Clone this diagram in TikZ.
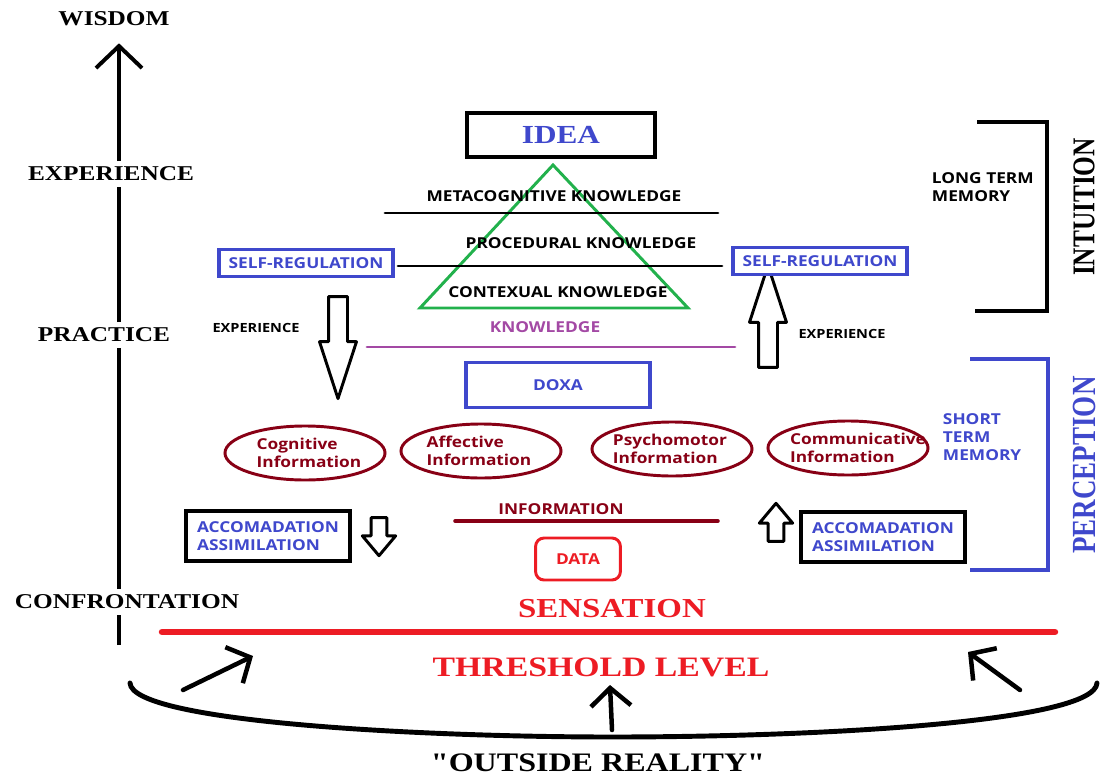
\documentclass[tikz,border=0pt]{standalone}
\usepackage{fontspec}
\usetikzlibrary{arrows.meta,shapes.geometric,shapes.arrows}
\newfontfamily\widserif{Liberation Serif}[FakeStretch=1.2,Ligatures=TeXOff]
\newfontfamily\narserif{Liberation Serif}[FakeStretch=0.8]
\newfontfamily\widsans{Open Sans}[FakeStretch=1.15]
\definecolor{pblue}{HTML}{3F48CC}
\definecolor{pred}{HTML}{ED1C24}
\definecolor{pdark}{HTML}{880015}
\definecolor{pgreen}{HTML}{22B14C}
\definecolor{ppurple}{HTML}{A349A4}
\begin{document}
\begin{tikzpicture}[x=0.025cm,y=-0.025cm,
  axislabel/.style={font=\widserif\bfseries\fontsize{15}{17}\selectfont,inner sep=4pt},
  axisline/.style={line width=2.8pt},
  sanslabel/.style={font=\widsans\bfseries\fontsize{10.7}{13}\selectfont},
  bluebox/.style={draw=pblue,line width=2.5pt,text=pblue,sanslabel,minimum width=4.35cm,minimum height=0.68cm,inner sep=0pt},
  accbox/.style={draw=black,line width=2.8pt,text=pblue,sanslabel,align=left,minimum width=4.12cm,minimum height=1.23cm,inner sep=0pt},
  infoell/.style={ellipse,draw=pdark,line width=2.1pt,minimum width=4cm,minimum height=1.35cm,inner sep=0pt},
  infotext/.style={sanslabel,text=pdark,align=left},
  sidelabel/.style={font=\narserif\bfseries\fontsize{22.5}{25}\selectfont,rotate=90,inner sep=0pt},
  hollow/.style={single arrow,draw=black,fill=white,line width=2.1pt,line join=round,inner xsep=0pt,inner ysep=0.2cm,
    single arrow head extend=0.225cm,single arrow tip angle=36,minimum height=2.55cm},
  smallhollow/.style={single arrow,draw=black,fill=white,line width=2.1pt,line join=round,inner xsep=0pt,inner ysep=0.16cm,
    single arrow head extend=0.22cm,single arrow tip angle=80,minimum height=0.95cm},
  barb/.style={line width=3.2pt,line cap=round,-{Straight Barb[length=0.45cm,width=1cm]}}]
\useasboundingbox (0,0) rectangle (1101,776);

% Left axis
\coordinate (base) at (119,645);
\node[axislabel] (wisdom) at (114,19) {WISDOM};
\node[axislabel] (exper) at (111,174) {EXPERIENCE};
\node[axislabel] (practice) at (104,335) {PRACTICE};
\node[axislabel] (confr) at (127,602) {CONFRONTATION};
\draw[axisline] (base) -- (confr.south -| base);
\draw[axisline] (confr.north -| base) -- (practice.south -| base);
\draw[axisline] (practice.north -| base) -- (exper.south -| base);
\draw[axisline,-{Straight Barb[length=0.55cm,width=1.15cm]}] (exper.north -| base) -- ([yshift=-8pt]wisdom.south -| base);

% Idea and knowledge pyramid
\node[draw=black,line width=2.8pt,minimum width=4.7cm,minimum height=1.1cm,text=pblue,
  font=\widserif\bfseries\fontsize{18.5}{20}\selectfont] (idea) at (561,135) {IDEA};
\draw[pgreen,line width=2.1pt] (553,165) -- (688,308) -- (420,308) -- cycle;
\draw[line width=2.1pt,line cap=round] (385,213) -- (718,213);
\draw[line width=2.1pt,line cap=round] (398,266) -- (722,266);
\node[sanslabel] (meta) at (554,196) {METACOGNITIVE KNOWLEDGE};
\node[sanslabel] (proc) at (581,243) {PROCEDURAL KNOWLEDGE};
\node[sanslabel] (cont) at (558,292) {CONTEXUAL KNOWLEDGE};
\node[sanslabel,text=ppurple] (know) at (545,327) {KNOWLEDGE};
\draw[ppurple,line width=2.1pt,line cap=round] (367,347) -- (735,347);

% Self-regulation and experience
\node[hollow,rotate=-90] (downl) at (338,333) {};
\node[hollow,rotate=90] (upr) at (768,331) {};
\node[bluebox,fill=white] (selfl) at (306,263) {SELF-REGULATION};
\node[bluebox,fill=white] (selfr) at (820,261) {SELF-REGULATION};
\node[sanslabel,font=\widsans\bfseries\fontsize{9}{11}\selectfont] (expl) at (256,328) {EXPERIENCE};
\node[sanslabel,font=\widsans\bfseries\fontsize{9}{11}\selectfont] (expr) at (842,334) {EXPERIENCE};

% Long term memory
\draw[line width=2.8pt] (977,122) -- (1047,122) -- (1047,311) -- (975,311);
\node[sanslabel,align=left,anchor=west] (ltm) at (927,187) {LONG TERM\\MEMORY};
\node[sidelabel] (intu) at (1084,207) {INTUITION};

% Doxa and information
\node[draw=pblue,line width=2.5pt,minimum width=4.6cm,minimum height=1.12cm,text=pblue,sanslabel] (doxa) at (558,385) {DOXA};
\node[infoell] (cog) at (305,453) {};
\node[infotext] (cogt) at (309,453) {Cognitive\\Information};
\node[infoell] (aff) at (481,451) {};
\node[infotext] (afft) at (479,451) {Affective\\Information};
\node[infoell] (psy) at (672,449) {};
\node[infotext] (psyt) at (670,449) {Psychomotor\\Information};
\node[infoell] (com) at (848,448) {};
\node[infotext] (comt) at (858,448) {Communicative\\Information};

% Short term memory
\draw[pblue,line width=2.8pt] (970,359) -- (1048,359) -- (1048,570) -- (970,570);
\node[sanslabel,text=pblue,align=left,anchor=west] (stm) at (938,437) {SHORT\\TERM\\MEMORY};
\node[sidelabel,text=pblue,font=\narserif\bfseries\fontsize{24}{26}\selectfont] (perc) at (1084,465) {PERCEPTION};

% Accomodation, data
\node[accbox] (accl) at (268,536) {ACCOMADATION\\ASSIMILATION};
\node[accbox] (accr) at (883,537) {ACCOMADATION\\ASSIMILATION};
\node[smallhollow,rotate=-90] (sdown) at (379,532) {};
\node[smallhollow,rotate=90] (sup) at (776,527) {};
\node[sanslabel,text=pdark] (info) at (561,509) {INFORMATION};
\draw[pdark,line width=2.5pt,line cap=round] (455,521) -- (718,521);
\node[draw=pred,line width=2.1pt,rounded corners=6pt,minimum width=2.12cm,minimum height=1.05cm,text=pred,sanslabel] (data) at (578,559) {DATA};

% Sensation and threshold
\node[text=pred,font=\widserif\bfseries\fontsize{19.5}{21}\selectfont] (sens) at (612,609) {SENSATION};
\draw[pred,line width=4.6pt,line cap=round] (162,632) -- (1055,632);
\node[text=pred,font=\widserif\bfseries\fontsize{20}{22}\selectfont] (thr) at (601,667) {THRESHOLD LEVEL};

% Outside reality
\coordinate (arcl) at (130,683);
\coordinate (arcr) at (1097,683);
\draw[line width=3.5pt,line cap=round] (arcl) .. controls (132,722) and (420,737) .. (612,737)
  .. controls (820,737) and (1095,722) .. (arcr);
\coordinate (l0) at (183,690); \coordinate (l1) at (253,656);
\coordinate (m0) at (612,730); \coordinate (m1) at (610,685);
\coordinate (r0) at (1020,690); \coordinate (r1) at (968,652);
\draw[barb] (l0) -- (l1);
\draw[barb] (m0) -- (m1);
\draw[barb] (r0) -- (r1);
\node[font=\widserif\bfseries\fontsize{19}{21}\selectfont] (outside) at (598,763) {"OUTSIDE REALITY"};
\end{tikzpicture}
\end{document}
